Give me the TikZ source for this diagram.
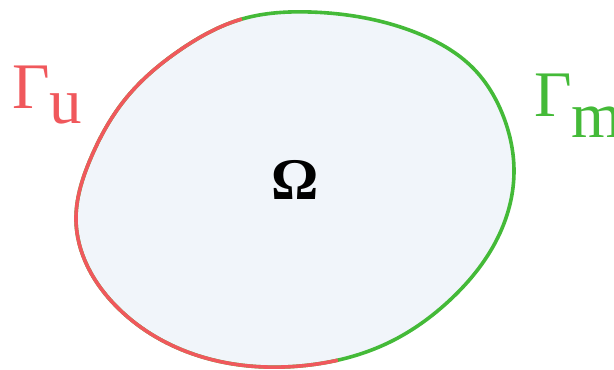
\documentclass[tikz,border=0pt]{standalone}
\usepackage{fontspec}
\setmainfont{Liberation Serif}
\usetikzlibrary{calc, hobby}

\definecolor{gammared}{RGB}{240,88,92}
\definecolor{gammagreen}{RGB}{68,186,56}
\definecolor{domainfill}{RGB}{241,245,250}

\begin{document}
\begin{tikzpicture}[x=1pt, y=-1pt]
    \useasboundingbox (0,0) rectangle (614,370);

    % Domain outline (closed Hobby curve through the boundary points)
    \def\domainpath{(310,12) .. (417,33) .. (473,68) .. (504,118) .. (514,172)
        .. (500,233) .. (450,300) .. (390,342) .. (300,366) .. (193,354)
        .. (115,305) .. (76,220) .. (90,160) .. (127,97) .. (180,50) .. (242,19)}

    % Fill and green boundary part
    \fill[domainfill, use Hobby shortcut, closed=true] \domainpath;
    \draw[gammagreen, line width=3.6pt, use Hobby shortcut, closed=true] \domainpath;

    % Red boundary part (left of the split line)
    \begin{scope}
        \clip (231,-20) -- (-20,-20) -- (-20,400) -- (349,400) -- cycle;
        \draw[gammared, line width=3.6pt, use Hobby shortcut, closed=true] \domainpath;
    \end{scope}

    % Labels
    \node[gammared, anchor=base west, inner sep=0pt, font=\fontsize{65}{66}\selectfont] (gammau) at (12,108)
        {Γ\raisebox{-15pt}{u}};
    \node[gammagreen, anchor=base west, inner sep=0pt, font=\fontsize{65}{66}\selectfont] (gammam) at (534,116)
        {Γ\raisebox{-21pt}{m}};
    \node[inner sep=0pt, font=\fontsize{59}{60}\selectfont\bfseries] (omega) at (295,180) {Ω};
\end{tikzpicture}
\end{document}
